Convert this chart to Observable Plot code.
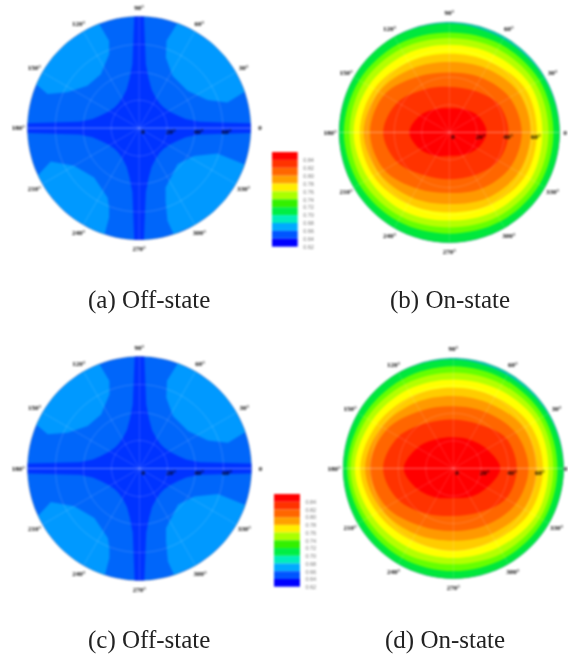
<!DOCTYPE html>
<html><head><meta charset="utf-8">
<script src="https://cdn.jsdelivr.net/npm/d3@7"></script>
<script src="https://cdn.jsdelivr.net/npm/@observablehq/plot@0.6"></script>
<style>
html,body{margin:0;padding:0;background:#fff}
#page{position:relative;width:568px;height:654px;overflow:hidden}
.panel{position:absolute;filter:blur(0.8px)}
.cap{position:absolute;font-family:"Liberation Serif",serif;font-size:25px;line-height:29px;color:#222;white-space:pre;filter:blur(0.3px)}
</style></head><body><div id="page"></div>
<script>
// polar coordinate values
const spokeAngles=[0,30,60,90,120,150,180,210,240,270,300,330];
const rimLabels=["0","30°","60°","90°","120°","150°","180°","210°","240°","270°","300°","330°"];
const rings=[20,40,60];
const radialLabels=["0","20°","40°","60°"];
const radialValues=[0,20,40,60];
const rimRadius=80;

// off-state contours: [theta, radius]
const crossTheta=[2.5,3.5,6,11,18,28,40,50,62,72,79,84,87.5, 92.5,96,101,108,118,130,140,152,162,169,174,177.5, 182.5,186,191,198,208,220,230,242,252,259,264,267.5, 272.5,276,281,288,298,310,320,332,342,349,354,357.5];
const crossRadius=[80,64,43,34,29,25,23,23,25,29,36,46,80, 80,46,36,29,25,23,23,25,29,34,43,80, 80,43,34,29,25,23,23,25,29,36,46,80, 80,46,36,29,25,23,23,25,29,34,43,80];
const blobUR=[[19,80],[30,80],[40,80],[50,80],[60,80],[70,80],[72.6,65.6],[69.3,54.1],[57.5,44.5],[37.7,43.8],[22.3,52.9],[16.2,65.9]];
const blobUL=[[111,80],[120,80],[130,80],[140,80],[150,80],[157,80],[159.6,70],[153.5,57.4],[140.7,47.9],[125.4,47.4],[112,57.2],[109,66.2]];
const blobLL=[[205,80],[215,80],[225,80],[235,80],[245,80],[252,80],[251.4,67.5],[249.3,60.8],[245.5,54.6],[227.6,47.8],[210,53.8],[200.7,67.7]];
const blobLR=[[288,80],[300,80],[310,80],[320,80],[330,80],[341,80],[342,59],[333,44],[317,37.7],[294,46.6],[290,55.5],[287,69.4]];

// on-state contours: radius at each 30° of spokeAngles, outermost first
const onLevels=["#00c8a8","#00e83c","#66ff00","#b4ff00","#ffff00","#ffcc00","#ff9900","#ff6600","#ff3300","#ff0000"];
const onB=[
 [80,80,80,80,80,80,80,80,80,80,80,80],
 [80,79,78,79,80,80,80,80,80,80,80,80],
 [75.5,75.5,74,72.5,74,75.5,76.5,75.5,74.5,73.5,74.5,75.5],
 [72,72,70,68.5,70,72,72.5,72,70.5,69,70.5,72],
 [67.5,68,65,63.5,65,67.5,69.5,67.5,66,64,66,68],
 [63.5,63.5,59,57,59,63,65,63.5,60,58,60.5,63.5],
 [59,58,53.5,51,53.5,59,62,59,54.5,52,55,58],
 [52.5,50.5,46,43.5,46.5,54.5,57.5,54.5,47,44,47,51],
 [43,41,35,33,36,43.5,48,43.5,36,34,36,41],
 [27,24,19.5,17.5,19.5,24.5,29,24.5,19.5,17,19,23.5]];
const onD=[
 [80,80,80,80,80,80,80,80,80,80,80,80],
 [80,79,78,79,80,80,80,80,80,80,80,80],
 [75.5,75.5,74.5,74,74.5,75.5,77,75.5,75,74.5,75,75.5],
 [72.5,72.5,70.5,69.5,70.5,72.5,74.5,72.5,71,69.5,71,72.5],
 [69,69,66,64.5,66,68.5,71.5,68.5,66,65,66,69],
 [65,64,60,58.5,60.5,64,67.5,64,60.5,60,60.5,64],
 [60.5,59,54,52.5,55,60,64,60,55,52.5,55,59],
 [54.5,52,47,45,48,56,60.5,56,48,45.5,47.5,52],
 [46,44,37,35.5,38,46,51,46,38,34.5,37,44],
 [34,28,24,22.5,24.5,30,36,30,24.5,21.5,24,28]];

// colour bar
const barColors=["#ff0000","#ff3300","#ff6600","#ffa000","#ffee00","#aaff00","#33f000","#00ee44","#00eebb","#00aaff","#0055ff","#0000ff"];
const barLabels=["0.84","0.82","0.80","0.78","0.76","0.74","0.72","0.70","0.68","0.66","0.64","0.62"];
const offColors={base:"#0066fa",cross:"#0033ff",blob:"#0099ff"};

const captions=[["(a) Off-state",88,285],["(b) On-state",390,285],["(c) Off-state",88,625],["(d) On-state",385,625]];

const rad=d=>d*Math.PI/180;
const px=(t,r)=>r*Math.cos(rad(t));
const py=(t,r)=>r*Math.sin(rad(t));
const page=document.getElementById("page");

function polygon(pts,fill,curve="linear-closed"){
  return Plot.line(pts,{x:d=>px(d[0],d[1]),y:d=>py(d[0],d[1]),fill,stroke:"none",curve});
}
function panel(cx,cy,R,layers,zeroRadius){
  const D=100,S=R*D/rimRadius;
  const arc=d3.range(0,361,3).map(t=>[t,rimRadius]);
  const marks=[...layers];
  const labelR=t=>t===0?zeroRadius:86.5;
  for(const r of rings){
    marks.push(Plot.line(d3.range(0,361,5).map(t=>[t,r]),{x:d=>px(d[0],d[1]),y:d=>py(d[0],d[1]),stroke:"#fff",strokeOpacity:0.22,strokeWidth:0.7}));
  }
  marks.push(Plot.link(spokeAngles,{x1:0,y1:0,x2:t=>px(t,rimRadius),y2:t=>py(t,rimRadius),stroke:"#fff",strokeOpacity:t=>t%180===0?0.55:0.2,strokeWidth:0.7}));
  marks.push(Plot.line(arc,{x:d=>px(d[0],d[1]),y:d=>py(d[0],d[1]),stroke:"#556",strokeOpacity:0.45,strokeWidth:0.6}));
  marks.push(Plot.text(spokeAngles,{x:t=>px(t,labelR(t)),y:t=>py(t,labelR(t)),text:(t,i)=>rimLabels[i],fontSize:7,fontWeight:"bold",fontFamily:"Liberation Serif",fill:"#000"}));
  marks.push(Plot.text(radialValues,{x:v=>v+2.7,y:0,dy:4,text:(v,i)=>radialLabels[i],fontSize:7,fontWeight:"bold",fontFamily:"Liberation Serif",fill:"#000"}));
  const svg=Plot.plot({width:2*S,height:2*S,margin:0,style:{background:"transparent"},
    x:{axis:null,domain:[-D,D],range:[0,2*S]},
    y:{axis:null,domain:[-D,D],range:[2*S,0]},marks});
  svg.classList.add("panel");
  svg.style.left=(cx-S)+"px";svg.style.top=(cy-S)+"px";svg.style.maxWidth="none";svg.style.overflow="visible";
  page.appendChild(svg);
}
function offLayers(){
  const disc=d3.range(0,360,3).map(t=>[t,rimRadius]);
  return [polygon(disc,offColors.base),
    ...[blobUR,blobUL,blobLL,blobLR].map(b=>polygon(b,offColors.blob)),
    polygon(crossTheta.map((t,i)=>[t,crossRadius[i]]),offColors.cross)];
}
function onLayers(levels){
  return levels.map((radii,i)=>polygon(
    i===0?d3.range(0,360,3).map(t=>[t,rimRadius]):spokeAngles.map((t,j)=>[t,radii[j]]),
    onLevels[i],"catmull-rom-closed"));
}
function colorBar(left,top,w,h,labelGap){
  const rows=barColors.map((c,i)=>({c,i,label:barLabels[i]}));
  const svg=Plot.plot({width:w+labelGap+22,height:h+8,marginLeft:0,marginRight:labelGap+22,marginTop:0,marginBottom:8,
    x:{axis:null,domain:[0,1]},y:{axis:null,domain:[12,0]},
    marks:[
      Plot.rect(rows,{x1:0,x2:1,y1:d=>d.i,y2:d=>d.i+1,fill:d=>d.c}),
      Plot.text(rows,{x:1,y:d=>d.i+1,text:"label",dx:labelGap,textAnchor:"start",fontSize:5.5,fontFamily:"Liberation Sans",fill:"#777"})
    ]});
  svg.classList.add("panel");
  svg.style.left=left+"px";svg.style.top=top+"px";svg.style.maxWidth="none";
  page.appendChild(svg);
}
panel(138.5,127.3,111.7,offLayers(),86.5);
panel(449.3,131.7,110.3,onLayers(onB),84);
panel(138.8,468.4,112,offLayers(),86.5);
panel(453.2,467.5,110.3,onLayers(onD),81.5);
colorBar(272,152,25.7,94.7,5);
colorBar(274,494,26,92.7,5);
for(const [t,x,y] of captions){
  const d=document.createElement("div");d.className="cap";d.textContent=t;d.style.left=x+"px";d.style.top=y+"px";page.appendChild(d);
}
</script></body></html>
